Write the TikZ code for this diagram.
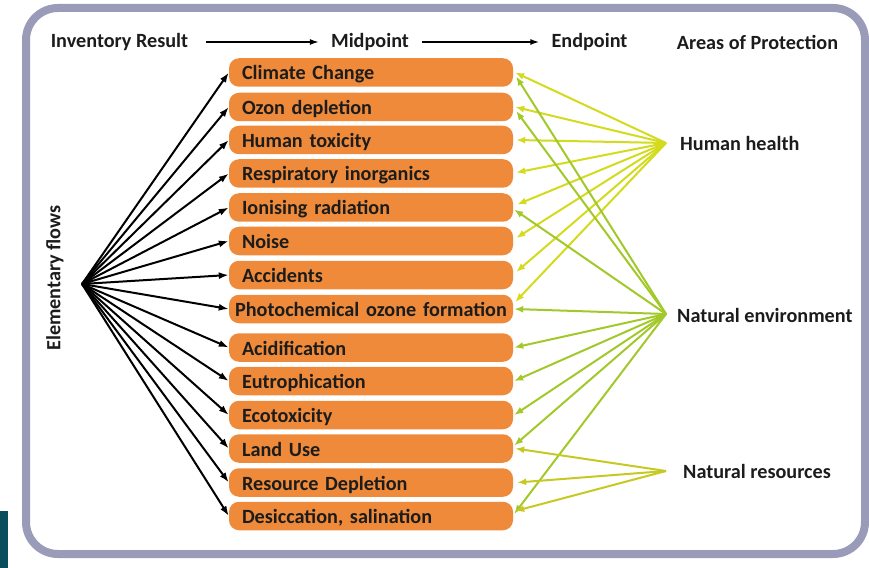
\documentclass[tikz,border=0pt]{standalone}
\usepackage{fontspec}
\setmainfont{Carlito}
\usetikzlibrary{arrows.meta,calc}

\definecolor{frameclr}{HTML}{9A9AB9}
\definecolor{tealclr}{HTML}{0B4D5C}
\definecolor{boxclr}{HTML}{EE8A3A}
\definecolor{txtclr}{HTML}{1C1C1C}
\definecolor{hhclr}{HTML}{D3DB1C}
\definecolor{neclr}{HTML}{A2C82A}
\definecolor{nrclr}{HTML}{C6C922}

\begin{document}
\begin{tikzpicture}[x=1bp,y=-1bp,
  font=\fontsize{20.2bp}{23bp}\selectfont\bfseries,
  cat/.style={fill=boxclr, rounded corners=10bp, minimum width=284bp,
    minimum height=28.5bp, text width=258bp, inner xsep=13bp, inner ysep=0pt,
    text height=17bp, text depth=2bp, align=left, text=txtclr},
  hdr/.style={inner sep=0pt, text=txtclr},
  lbl/.style={inner sep=0pt, text=txtclr, anchor=west},
  hdrarrow/.style={black, line width=1.6bp, -{Latex[length=9bp,width=6bp]}},
  flow/.style={black, line width=2bp, -{Latex[length=10bp,width=7bp]}},
  hharr/.style={hhclr, line width=2bp, -{Latex[length=9bp,width=7bp]}},
  nearr/.style={neclr, line width=2bp, -{Latex[length=9bp,width=7bp]}},
  nrarr/.style={nrclr, line width=2bp, -{Latex[length=9bp,width=7bp]}}
]
\useasboundingbox (0,0) rectangle (869,568);

% outer frame and corner tab
\draw[frameclr, line width=8bp, rounded corners=32bp] (26,8) rectangle (865,554);
\fill[tealclr] (0,511) rectangle (8,568);

% header row
\node[hdr] (inv)  at (119.5,42) {Inventory Result};
\node[hdr] (mid)  at (370,42)   {Midpoint};
\node[hdr] (endp) at (589.5,42) {Endpoint};
\node[hdr] (aop)  at (757.5,42) {Areas of Protection};
\draw[hdrarrow, shorten <=18bp, shorten >=12bp] (inv.east) -- (mid.west);
\draw[hdrarrow, shorten <=13bp, shorten >=12bp] (mid.east) -- (endp.west);

% midpoint impact categories
\node[cat] (c1)  at (371,72.5)  {Climate Change};
\node[cat] (c2)  at (371,107)   {Ozon depletion};
\node[cat] (c3)  at (371,140)   {Human toxicity};
\node[cat] (c4)  at (371,173.5) {Respiratory inorganics};
\node[cat] (c5)  at (371,207.5) {Ionising radiation};
\node[cat] (c6)  at (371,241)   {Noise};
\node[cat] (c7)  at (371,275)   {Accidents};
\node[cat, text width=282bp, inner xsep=1bp, align=center] (c8) at (371,309) {Photochemical ozone formation};
\node[cat] (c9)  at (371,347.5) {Acidification};
\node[cat] (c10) at (371,381)   {Eutrophication};
\node[cat] (c11) at (371,415)   {Ecotoxicity};
\node[cat] (c12) at (371,448.5) {Land Use};
\node[cat] (c13) at (371,482.5) {Resource Depletion};
\node[cat] (c14) at (371,516)   {Desiccation, salination};

% elementary flows fan
\node[rotate=90, text=txtclr, inner sep=0pt] (ef) at (55,278) {Elementary flows};
\coordinate (src) at (82,284);
\foreach \i in {1,...,14} \draw[flow] (src) -- (c\i.west);

% areas of protection
\node[lbl] (hh) at (680,143) {Human health};
\node[lbl] (ne) at (677,315.5) {Natural environment};
\node[lbl] (nr) at (683,471.5) {Natural resources};
\coordinate (hhub) at (666,143);
\coordinate (nehub) at (666,314);
\coordinate (nrhub) at (666,471);

% human health links
\draw[hharr] (hhub) -- ($(c1.east)+(2,0)$);
\draw[hharr] (hhub) -- ($(c2.east)+(2,0)$);
\draw[hharr] (hhub) -- ($(c3.east)+(3,0)$);
\draw[hharr] (hhub) -- ($(c4.east)+(3,-1)$);
\draw[hharr] (hhub) -- ($(c5.east)+(4,-3)$);
\draw[hharr] (hhub) -- ($(c6.east)+(3,-3)$);
\draw[hharr] (hhub) -- ($(c7.east)+(3,-3)$);
\draw[hharr] (hhub) -- ($(c8.east)+(2,-7)$);

% natural environment links
\draw[nearr] (nehub) -- ($(c1.east)+(3,4)$);
\draw[nearr] (nehub) -- ($(c2.east)+(3,4)$);
\draw[nearr] (nehub) -- ($(c5.east)+(1,2)$);
\draw[nearr] (nehub) -- ($(c8.east)+(1,0)$);
\draw[nearr] (nehub) -- ($(c9.east)+(1,0)$);
\draw[nearr] (nehub) -- ($(c10.east)+(1,0)$);
\draw[nearr] (nehub) -- ($(c11.east)+(1,0)$);
\draw[nearr] (nehub) -- ($(c12.east)+(1,-3)$);
\draw[nearr] (nehub) -- ($(c14.east)+(1,-2)$);

% natural resources links
\draw[nrarr] (nrhub) -- ($(c12.east)+(2,0)$);
\draw[nrarr] (nrhub) -- ($(c13.east)+(4,0)$);
\draw[nrarr] (nrhub) -- ($(c14.east)+(2,-5)$);
\end{tikzpicture}
\end{document}
